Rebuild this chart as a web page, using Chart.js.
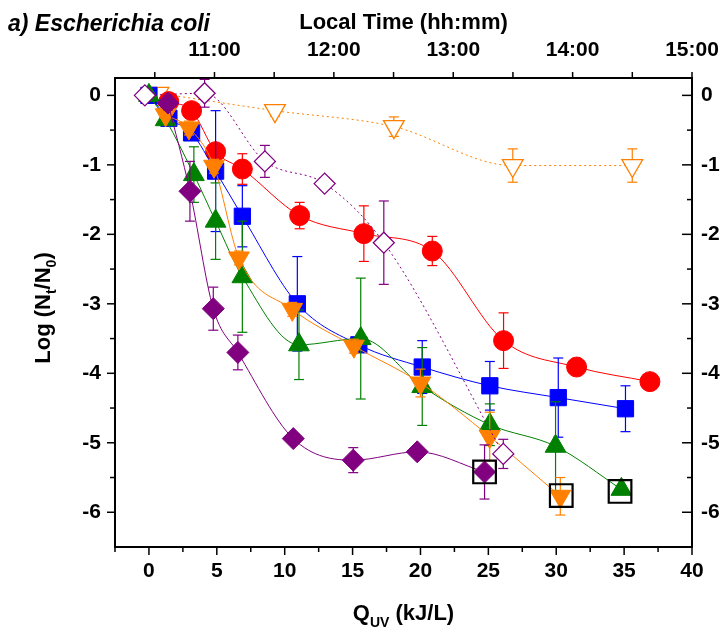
<!DOCTYPE html>
<html><head><meta charset="utf-8">
<script src="https://cdn.jsdelivr.net/npm/chart.js@4/dist/chart.umd.min.js"></script>
<style>html,body{margin:0;padding:0;background:#fff}canvas{display:block}</style>
</head><body>
<canvas id="c" width="726" height="635"></canvas>
<script>
// ---- Tick values ----
const xTicks = [0, 5, 10, 15, 20, 25, 30, 35, 40];
const xMinorTicks = [-2.5, 2.5, 7.5, 12.5, 17.5, 22.5, 27.5, 32.5, 37.5];
const yTicks = [0, -1, -2, -3, -4, -5, -6];
const yMinorTicks = [-0.5, -1.5, -2.5, -3.5, -4.5, -5.5];
const timeTicks = [660, 720, 780, 840, 900];          // minutes of day
const timeLabels = ['11:00', '12:00', '13:00', '14:00', '15:00'];
const timeMinorTicks = [630, 690, 750, 810, 870];

// ---- Series (Q_UV in kJ/L, log reduction, error) ----
const redQ   = [1.46, 3.14, 4.91, 6.88, 11.1, 15.83, 20.87, 26.12, 31.5, 36.9];
const redY   = [-0.09, -0.22, -0.81, -1.06, -1.73, -1.99, -2.24, -3.53, -3.91, -4.12];
const redE   = [0.05, 0.05, 0.1, 0.22, 0.19, 0.4, 0.21, 0.4, 0, 0];

const blueQ  = [0, 1.47, 3.14, 4.91, 6.88, 10.93, 15.46, 20.13, 25.11, 30.15, 35.1];
const blueY  = [0, -0.33, -0.54, -1.09, -1.74, -3.0, -3.59, -3.91, -4.18, -4.35, -4.51];
const blueE  = [0.1, 0.08, 0.1, 0.87, 0.44, 0.68, 0.05, 0.38, 0.35, 0.57, 0.33];

const greenQ = [0, 1.23, 3.31, 4.91, 6.88, 11.05, 15.6, 20.13, 25.11, 29.95, 34.8];
const greenY = [0, -0.35, -1.14, -1.81, -2.61, -3.59, -3.5, -4.19, -4.74, -5.05, -5.67];
const greenE = [0.05, 0.05, 0.4, 0.55, 0.8, 0.5, 0.87, 0.56, 0.3, 0.64, 0.05];

const orangeQ = [1.23, 2.95, 4.79, 6.63, 10.56, 15.1, 20.0, 25.1, 30.3];
const orangeY = [-0.28, -0.47, -1.02, -2.34, -3.08, -3.61, -4.14, -4.91, -5.77];
const orangeE = [0.05, 0.1, 0.1, 0.1, 0.1, 0.1, 0.2, 0.35, 0.27];

const purpleQ = [1.4, 3.02, 4.74, 6.55, 10.63, 15.05, 19.76, 24.72];
const purpleY = [-0.11, -1.38, -3.07, -3.7, -4.94, -5.25, -5.13, -5.42];
const purpleE = [0.1, 0.43, 0.31, 0.25, 0.05, 0.18, 0.05, 0.39];

const openDiaQ = [-0.3, 4.1, 8.54, 12.94, 17.3, 26.1];
const openDiaY = [0, 0.03, -0.95, -1.27, -2.12, -5.16];
const openDiaE = [0, 0.2, 0.23, 0.08, 0.6, 0.21];

const openTriQ = [0.7, 9.28, 18.04, 26.8, 35.6];
const openTriY = [0.03, -0.22, -0.45, -1.01, -1.01];
const openTriE = [0.05, 0.08, 0.14, 0.24, 0.24];

const boxQ = [24.72, 30.37, 34.7];
const boxY = [-5.42, -5.76, -5.70];

// ---- Build ----
const FONT = "'Liberation Sans', Arial, sans-serif";
const pts = (xs, ys) => xs.map((x, i) => ({x: x, y: ys[i]}));

function series(label, xs, ys, errs, color, style, radius, opts) {
  return Object.assign({
    label: label,
    data: pts(xs, ys),
    errors: errs,
    showLine: true,
    borderColor: color,
    borderWidth: 1,
    cubicInterpolationMode: 'monotone',
    pointStyle: style,
    pointRadius: radius,
    pointBackgroundColor: color,
    pointBorderColor: color,
    pointBorderWidth: 1,
    xAxisID: 'x', yAxisID: 'y'
  }, opts || {});
}

const datasets = [
  Object.assign(series('highlight', boxQ, boxY, null, '#000', 'rect', 16), {
    showLine: false, pointBackgroundColor: 'rgba(0,0,0,0)', pointBorderWidth: 2.2, order: 0 }),
  series('purple', purpleQ, purpleY, purpleE, '#800080', 'rectRot', 11, {order: 1}),
  series('orange', orangeQ, orangeY, orangeE, '#FF8000', 'triangle', 12, {pointRotation: 180, order: 2}),
  series('green', greenQ, greenY, greenE, '#008000', 'triangle', 12, {order: 3}),
  series('blue', blueQ, blueY, blueE, '#0000FF', 'rect', 11.5, {order: 4}),
  series('red', redQ, redY, redE, '#FF0000', 'circle', 10, {order: 5}),
  series('openDia', openDiaQ, openDiaY, openDiaE, '#800080', 'rectRot', 10.5,
    {borderDash: [2, 3], pointBackgroundColor: '#fff', pointBorderWidth: 1.3, order: 1.5}),
  series('openTri', openTriQ, openTriY, openTriE, '#FF8000', 'triangle', 12,
    {borderDash: [2, 3], pointRotation: 180, pointBackgroundColor: '#fff', pointBorderWidth: 1.3, order: 6})
];

function line(ctx, x1, y1, x2, y2) { ctx.beginPath(); ctx.moveTo(x1, y1); ctx.lineTo(x2, y2); ctx.stroke(); }

function drawRich(ctx, parts, x, y) { // centered at x, baseline y
  let total = 0;
  parts.forEach(p => { ctx.font = 'bold ' + p.s + 'px ' + FONT; p.w = ctx.measureText(p.t).width; total += p.w; });
  let cx = x - total / 2;
  ctx.textAlign = 'left'; ctx.textBaseline = 'alphabetic';
  parts.forEach(p => { ctx.font = 'bold ' + p.s + 'px ' + FONT; ctx.fillText(p.t, cx, y + (p.dy || 0)); cx += p.w; });
}

const decor = {
  id: 'decor',
  beforeDatasetDraw(chart, args) {
    const ds = chart.data.datasets[args.index];
    if (!ds.errors) return;
    const ctx = chart.ctx, sx = chart.scales.x, sy = chart.scales.y;
    ctx.save();
    ctx.strokeStyle = ds.borderColor; ctx.lineWidth = 1.2; ctx.setLineDash([]);
    ds.data.forEach((p, i) => {
      const e = ds.errors[i];
      if (!e) return;
      const px = sx.getPixelForValue(p.x);
      const y1 = sy.getPixelForValue(p.y + e), y2 = sy.getPixelForValue(p.y - e);
      line(ctx, px, y1, px, y2);
      line(ctx, px - 5, y1, px + 5, y1);
      line(ctx, px - 5, y2, px + 5, y2);
    });
    ctx.restore();
  },
  afterDraw(chart) {
    const ctx = chart.ctx, a = chart.chartArea;
    const sx = chart.scales.x, sy = chart.scales.y, st = chart.scales.x2;
    ctx.save();
    ctx.strokeStyle = '#000'; ctx.lineWidth = 1.5; ctx.setLineDash([]);
    xTicks.forEach(v => { const p = sx.getPixelForValue(v); line(ctx, p, a.bottom, p, a.bottom + 8); });
    xMinorTicks.forEach(v => { const p = sx.getPixelForValue(v); line(ctx, p, a.bottom, p, a.bottom + 5); });
    yTicks.forEach(v => { const p = sy.getPixelForValue(v); line(ctx, a.left - 8, p, a.left, p); line(ctx, a.right - 10, p, a.right, p); });
    yMinorTicks.forEach(v => { const p = sy.getPixelForValue(v); line(ctx, a.left - 5, p, a.left, p); line(ctx, a.right - 5, p, a.right, p); });
    timeTicks.concat(timeMinorTicks).forEach(v => { const p = st.getPixelForValue(v); line(ctx, p, a.top - 6, p, a.top); });
    ctx.fillStyle = '#000';
    // corner label
    ctx.font = 'italic bold 23px ' + FONT; ctx.textAlign = 'left'; ctx.textBaseline = 'alphabetic';
    ctx.fillText('a) Escherichia coli', 8, 31);
    // top title
    drawRich(ctx, [{t: 'Local Time (hh:mm)', s: 22}], (a.left + a.right) / 2, 29);
    // bottom title
    drawRich(ctx, [{t: 'Q', s: 22}, {t: 'UV', s: 14, dy: 7}, {t: ' (kJ/L)', s: 22}], (a.left + a.right) / 2, 620);
    // left title
    ctx.translate(50, 308); ctx.rotate(-Math.PI / 2);
    drawRich(ctx, [{t: 'Log (N', s: 22}, {t: 't', s: 14, dy: 6}, {t: '/N', s: 22}, {t: '0', s: 14, dy: 6}, {t: ')', s: 22}], 0, 0);
    ctx.restore();
  }
};

const tickFont = {family: FONT, size: 21, weight: 'bold'};
const noGrid = {display: false, drawTicks: false};
const border = {display: true, color: '#000', width: 2};
const noSidePad = s => { s.paddingLeft = 0; s.paddingRight = 0; };

new Chart(document.getElementById('c'), {
  type: 'scatter',
  data: {datasets: datasets},
  options: {
    responsive: false, animation: false, devicePixelRatio: 1,
    layout: {padding: 0},
    plugins: {legend: {display: false}, tooltip: {enabled: false}},
    scales: {
      x: {type: 'linear', position: 'bottom', min: -2.5, max: 40,
        grid: noGrid, border: border,
        afterBuildTicks: s => { s.ticks = xTicks.map(v => ({value: v})); },
        afterFit: s => { s.height = 88; noSidePad(s); },
        ticks: {font: tickFont, color: '#000', padding: 12, autoSkip: false, maxRotation: 0}},
      x2: {type: 'linear', position: 'top', min: 610, max: 900,
        grid: noGrid, border: border,
        afterBuildTicks: s => { s.ticks = timeTicks.map(v => ({value: v})); },
        afterFit: s => { s.height = 78; noSidePad(s); },
        ticks: {font: tickFont, color: '#000', padding: 15, autoSkip: false, maxRotation: 0,
          callback: v => timeLabels[timeTicks.indexOf(v)]}},
      y: {type: 'linear', position: 'left', min: -6.5, max: 0.25,
        grid: noGrid, border: border,
        afterBuildTicks: s => { s.ticks = yTicks.map(v => ({value: v})); },
        afterFit: s => { s.width = 115; s.paddingTop = 0; s.paddingBottom = 0; },
        ticks: {font: tickFont, color: '#000', padding: 14, autoSkip: false}},
      y2: {type: 'linear', position: 'right', min: -6.5, max: 0.25,
        grid: noGrid, border: border,
        afterBuildTicks: s => { s.ticks = yTicks.map(v => ({value: v})); },
        afterFit: s => { s.width = 34; s.paddingTop = 0; s.paddingBottom = 0; },
        ticks: {font: tickFont, color: '#000', padding: 9, autoSkip: false}}
    }
  },
  plugins: [decor]
});
</script>
</body></html>
